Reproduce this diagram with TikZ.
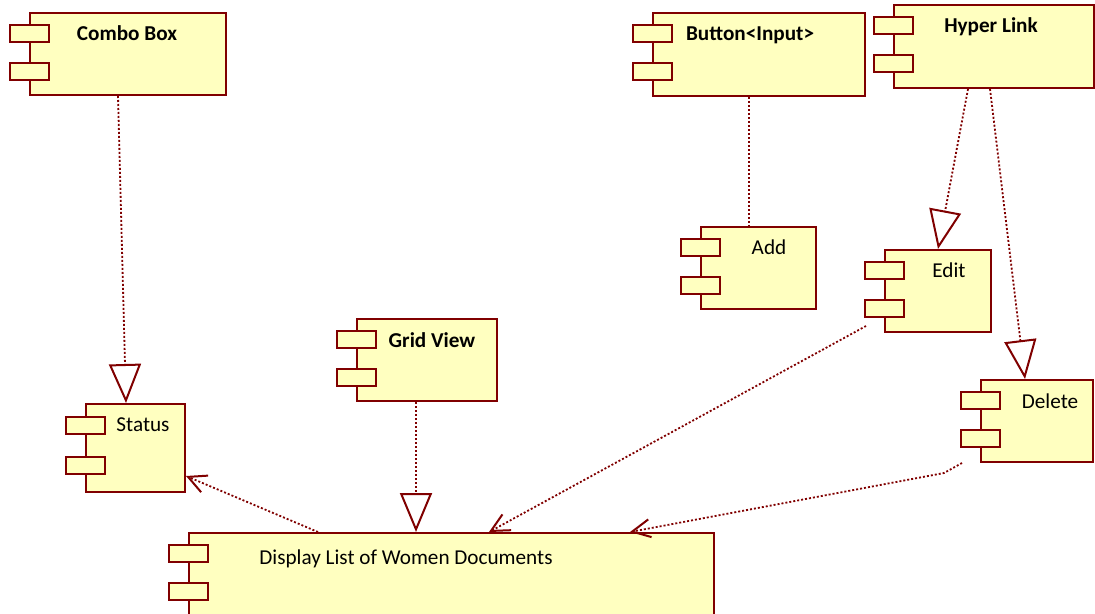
\documentclass[tikz,border=0pt]{standalone}
\usepackage{fontspec}
\setmainfont{Carlito}
\usetikzlibrary{arrows.meta,calc,positioning}

\definecolor{umlred}{RGB}{128,0,0}
\definecolor{umlfill}{RGB}{255,255,192}

\begin{document}
\begin{tikzpicture}[x=0.5pt,y=-0.5pt,
  comp/.style={draw=umlred, fill=umlfill, line width=1pt, inner sep=0pt},
  tab/.style={draw=umlred, fill=umlfill, line width=1pt, inner sep=0pt,
    minimum width=19.5pt, minimum height=8.5pt},
  lbl/.style={font=\fontsize{10.6}{12}\selectfont, inner sep=0pt, anchor=base},
  dep/.style={draw=umlred, line width=0.9pt, dash pattern=on 1pt off 1pt},
  real/.style={dep, -{Triangle[open, length=19.5pt, width=16pt, line width=1pt]}},
  use/.style={dep, -{Straight Barb[length=9pt, width=9pt, line width=1pt]}}]
  \clip (0,0) rectangle (1095,614);
  \useasboundingbox (0,0) rectangle (1095,614);

  % Components
  \node[comp, minimum width=98pt, minimum height=41pt] (combo) at (128,54) {};
  \node[comp, minimum width=106pt, minimum height=41.5pt] (button) at (759,54.5) {};
  \node[comp, minimum width=100pt, minimum height=41.5pt] (hyper) at (994,46.5) {};
  \node[comp, minimum width=57.5pt, minimum height=41pt] (add) at (758.5,268) {};
  \node[comp, minimum width=53pt, minimum height=41pt] (edit) at (938,291) {};
  \node[comp, minimum width=56pt, minimum height=41pt] (delete) at (1037,421) {};
  \node[comp, minimum width=70pt, minimum height=41pt] (grid) at (427,360) {};
  \node[comp, minimum width=49.5pt, minimum height=44pt] (status) at (135.5,448) {};
  \node[comp, minimum width=262.5pt, minimum height=46pt] (display) at (451.5,579) {};

  % Tabs
  \node[tab] (combo-t1) at ($(combo.north west)+(0,21.5)$) {};
  \node[tab] (combo-t2) at ($(combo.north west)+(0,59.5)$) {};
  \node[tab] (button-t1) at ($(button.north west)+(0,21.5)$) {};
  \node[tab] (button-t2) at ($(button.north west)+(0,59.5)$) {};
  \node[tab] (hyper-t1) at ($(hyper.north west)+(0,21.5)$) {};
  \node[tab] (hyper-t2) at ($(hyper.north west)+(0,59.5)$) {};
  \node[tab] (add-t1) at ($(add.north west)+(0,21.5)$) {};
  \node[tab] (add-t2) at ($(add.north west)+(0,59.5)$) {};
  \node[tab] (edit-t1) at ($(edit.north west)+(0,21.5)$) {};
  \node[tab] (edit-t2) at ($(edit.north west)+(0,59.5)$) {};
  \node[tab] (delete-t1) at ($(delete.north west)+(0,21.5)$) {};
  \node[tab] (delete-t2) at ($(delete.north west)+(0,59.5)$) {};
  \node[tab] (grid-t1) at ($(grid.north west)+(0,21.5)$) {};
  \node[tab] (grid-t2) at ($(grid.north west)+(0,59.5)$) {};
  \node[tab] (status-t1) at ($(status.north west)+(0,22)$) {};
  \node[tab] (status-t2) at ($(status.north west)+(0,62)$) {};
  \node[tab] (display-t1) at ($(display.north west)+(0,21.5)$) {};
  \node[tab] (display-t2) at ($(display.north west)+(0,59.5)$) {};

  % Labels
  \node[lbl, font=\fontsize{10.6}{12}\selectfont\bfseries] (combo-l) at (127,41) {Combo Box};
  \node[lbl, font=\fontsize{10.6}{12}\selectfont\bfseries] (button-l) at (750,41) {Button<Input>};
  \node[lbl, font=\fontsize{10.6}{12}\selectfont\bfseries] (hyper-l) at (991,33) {Hyper Link};
  \node[lbl, font=\fontsize{10.6}{12}\selectfont\bfseries] (grid-l) at (432,347) {Grid View};
  \node[lbl] (add-l) at (769,255) {Add};
  \node[lbl] (edit-l) at (949,278) {Edit};
  \node[lbl] (delete-l) at (1050,408) {Delete};
  \node[lbl] (status-l) at (143,431) {Status};
  \node[lbl] (display-l) at (406,564) {Display List of Women Documents};

  % Connectors
  \draw[real] ($(combo.south)+(-10,0)$) -- ($(status.north)+(-9.5,0)$);
  \draw[dep] ($(button.south)+(-10,0)$) -- ($(add.north)+(-9.5,0)$);
  \draw[real] ($(hyper.south)+(-26,0)$) -- (edit.north);
  \draw[real] ($(hyper.south)+(-4,0)$) -- ($(delete.north)+(-12,0)$);
  \draw[real] ($(grid.south)+(-11,0)$) -- ($(display.north)+(-35.5,0)$);
  \draw[use] ($(display.north)+(-133.5,0)$) -- ($(status.east)+(0,28)$);
  \draw[use] ($(edit.south west)+(-18,-7)$) -- ($(display.north)+(37.5,0)$);
  \draw[use] ($(delete.south west)+(-18,0)$) -- ++(-18,10) -- ($(display.north)+(178.5,0)$);
\end{tikzpicture}
\end{document}
